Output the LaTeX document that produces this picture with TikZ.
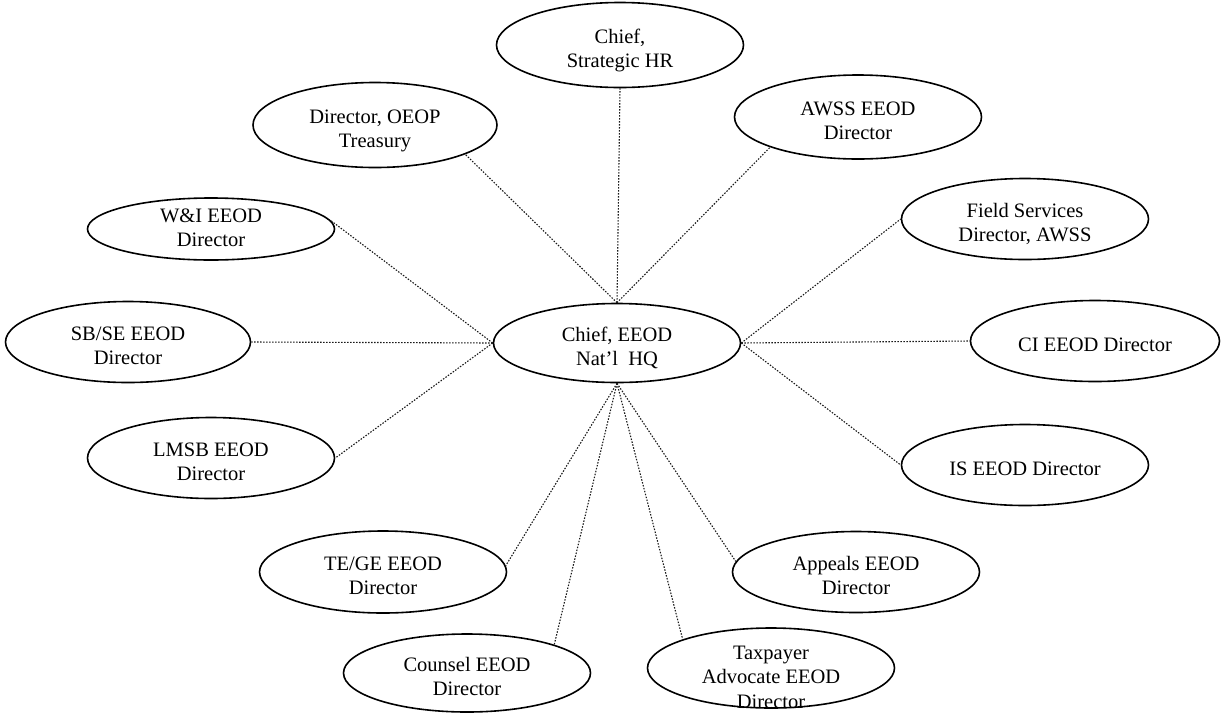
\documentclass[tikz,border=0pt]{standalone}
\usepackage{fontspec}
\setmainfont{Liberation Serif}
\usetikzlibrary{shapes.geometric}
\newcommand{\ovaltext}[2][-11pt]{\smash{\raisebox{#1}{\begin{tabular}{@{}c@{}}#2\end{tabular}}}}

\begin{document}
\begin{tikzpicture}[x=1pt,y=-1pt,
  oval/.style={ellipse,draw,line width=1.6pt,inner sep=0pt,minimum width=247pt,
    minimum height=81pt,font=\fontsize{20.5}{24.5}\selectfont},
  link/.style={line width=1.1pt,dash pattern=on 1.5pt off 1.5pt,black!90}]
  \useasboundingbox (0,0) rectangle (1221,713);
  % hub
  \node[oval,minimum height=79pt] (hub) at (617,343) {\ovaltext{Chief, EEOD\\Nat’l~~HQ}};
  % top
  \node[oval,minimum height=85pt] (shr) at (620,45) {\ovaltext{Chief,\\Strategic HR}};
  \node[oval,minimum height=85pt,minimum width=244pt] (oeop) at (375,125) {\ovaltext{Director, OEOP\\Treasury}};
  \node[oval,minimum height=84pt] (awss) at (858,117) {\ovaltext{AWSS EEOD\\Director}};
  % left side
  \node[oval,minimum height=62pt] (wi) at (211,229) {\ovaltext[-6pt]{W\&I EEOD\\Director}};
  \node[oval,minimum width=245pt] (sbse) at (128,342) {\ovaltext{SB/SE EEOD\\Director}};
  \node[oval] (lmsb) at (211,458) {\ovaltext{LMSB EEOD\\Director}};
  % right side
  \node[oval] (fs) at (1025,219) {\ovaltext{Field Services\\Director, AWSS}};
  \node[oval,minimum width=249pt] (ci) at (1095,341) {\ovaltext{CI EEOD Director}};
  \node[oval] (is) at (1025,465) {\ovaltext{IS EEOD Director}};
  % bottom
  \node[oval,minimum height=82pt] (tege) at (383,572) {\ovaltext{TE/GE EEOD\\Director}};
  \node[oval] (appeals) at (856,572) {\ovaltext{Appeals EEOD\\Director}};
  \node[oval,minimum height=78pt] (counsel) at (467,673) {\ovaltext{Counsel EEOD\\Director}};
  \node[oval,minimum height=80pt] (tax) at (771,668) {\ovaltext[-16pt]{Taxpayer\\Advocate EEOD\\Director}};
  % dotted links
  \foreach \side/\unit in {north/shr.south, north/oeop.-18, north/awss.-161,
      west/wi.4, west/sbse.east, west/lmsb.east,
      east/fs.west, east/ci.west, east/is.west,
      south/tege.3, south/counsel.18, south/tax.162, south/appeals.175}
    \draw[link] (hub.\side) -- (\unit);
\end{tikzpicture}
\end{document}
